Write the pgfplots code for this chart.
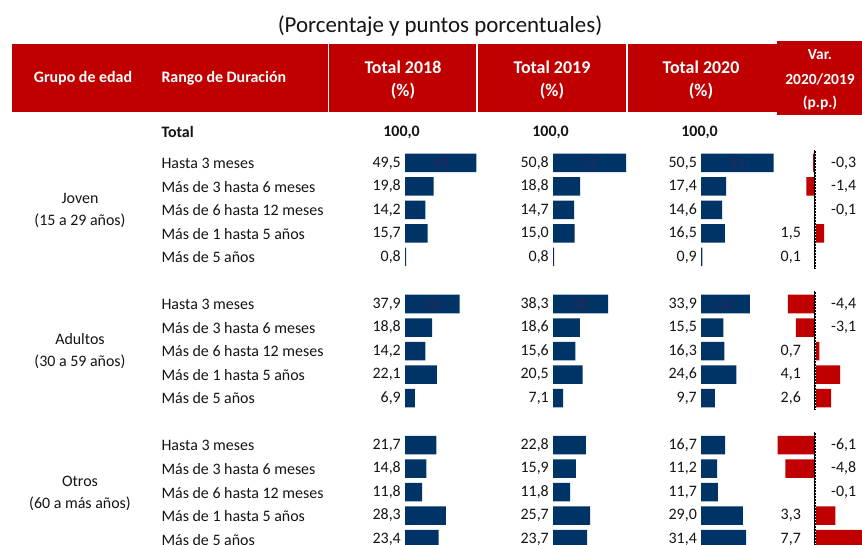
\documentclass[border=0pt]{standalone}
\usepackage{pgfplots}
\pgfplotsset{compat=1.18}
\usepackage{fontspec}
\setmainfont{Carlito}
\definecolor{navy}{RGB}{0,51,102}
\definecolor{hdrred}{RGB}{192,0,0}
\definecolor{inner}{RGB}{40,40,90}
\definecolor{txt}{RGB}{20,20,20}
\newcommand{\fs}[1]{\fontsize{#1}{#1}\selectfont}
\pgfplotsset{
  colax/.style={scale only axis, hide axis, clip=false, height=545bp,
    ymin=-5.936, ymax=17.255, y dir=reverse, anchor=south west},
  barcol/.style={xbar, bar shift=0pt, bar width=18.5bp, fill=navy, draw=none, forget plot},
  redbar/.style={xbar, bar shift=0pt, bar width=18.5bp, fill=hdrred, draw=none, forget plot},
  vlab/.style={draw=none, mark=none, forget plot, point meta=explicit,
    nodes near coords={\pgfmathprintnumber[fixed,fixed zerofill,precision=1,use comma,assume math mode=true]{\pgfplotspointmeta}},
    every node near coord/.append style={font=\fs{16}, text=txt, inner sep=0pt}},
  ilab/.style={draw=none, mark=none, forget plot, point meta=explicit,
    nodes near coords={\pgfmathprintnumber[fixed,precision=0,assume math mode=true]{\pgfplotspointmeta}},
    every node near coord/.append style={font=\fs{16}, text=inner, inner sep=0pt, anchor=center}},
}
\begin{document}
\begin{tikzpicture}[x=1bp,y=1bp]
\clip (0,0) rectangle (862,545);
\path[fill=white] (0,0) rectangle (862,545);
% title
\node[font=\fs{23}, text=txt] at (440,{545-26}) {(Porcentaje y puntos porcentuales)};
% header
\fill[hdrred] (12,{545-112}) rectangle (777,{545-44});
\fill[hdrred] (777,{545-115}) rectangle (862,{545-41});
\draw[white, line width=1.2bp] (477,{545-112}) -- (477,{545-44});
\draw[white, line width=1.2bp] (627,{545-112}) -- (627,{545-44});
\draw[white, line width=1.2bp] (328.5,{545-112}) -- (328.5,{545-44});
\node[font=\fs{16}\bfseries, text=white] at (83,{545-78}) {Grupo de edad};
\node[font=\fs{16}\bfseries, text=white, anchor=west] at (158,{545-78}) {Rango de Duración};
\foreach \cx/\yr in {403/2018, 552/2019, 701/2020}{
  \node[font=\fs{18}\bfseries, text=white] at (\cx,{545-67}) {Total \yr};
  \node[font=\fs{18}\bfseries, text=white] at (\cx,{545-91}) {(\%)};
}
\node[font=\fs{15.5}\bfseries, text=white] at (820,{545-55}) {Var.};
\node[font=\fs{15.5}\bfseries, text=white] at (820,{545-79}) {2020/2019};
\node[font=\fs{15.5}\bfseries, text=white] at (820,{545-103}) {(p.p.)};
% total row
\node[font=\fs{16}\bfseries, text=txt, anchor=west] at (158,{545-132}) {Total};
% group labels
\node[font=\fs{16}, text=txt] at (80,{545-198}) {Joven};
\node[font=\fs{16}, text=txt] at (80,{545-221}) {(15 a 29 años)};
\node[font=\fs{16}, text=txt] at (80,{545-339}) {Adultos};
\node[font=\fs{16}, text=txt] at (80,{545-362}) {(30 a 59 años)};
\node[font=\fs{16}, text=txt] at (80,{545-481}) {Otros};
\node[font=\fs{16}, text=txt] at (80,{545-504}) {(60 a más años)};
% row labels
\foreach \g in {0,6,12}{
  \foreach \r/\lab in {1/Hasta 3 meses, 2/Más de 3 hasta 6 meses, 3/Más de 6 hasta 12 meses, 4/Más de 1 hasta 5 años, 5/Más de 5 años}{
    \node[font=\fs{16}, text=txt, anchor=west] at (158,{545-163-(\r+\g-1)*23.55}) {\lab};
  }
}
% ---------- Total 2018 ----------
\begin{axis}[colax, at={(405bp,0bp)}, width=72bp, xmin=0, xmax=50]
\addplot[barcol] coordinates {(49.5,1) (19.8,2) (14.2,3) (15.7,4) (0.8,5)
  (37.9,7) (18.8,8) (14.2,9) (22.1,10) (6.9,11)
  (21.7,13) (14.8,14) (11.8,15) (28.3,16) (23.4,17)};
\addplot[vlab, every node near coord/.append style={anchor=east, xshift=-4bp}] coordinates {
  (0,1)[49.5] (0,2)[19.8] (0,3)[14.2] (0,4)[15.7] (0,5)[0.8]
  (0,7)[37.9] (0,8)[18.8] (0,9)[14.2] (0,10)[22.1] (0,11)[6.9]
  (0,13)[21.7] (0,14)[14.8] (0,15)[11.8] (0,16)[28.3] (0,17)[23.4]};
\addplot[vlab, every node near coord/.append style={anchor=east, xshift=15bp, font=\fs{16}\bfseries}] coordinates {(0,-0.319)[100]};
\addplot[ilab] coordinates {(24.75,1)[49] (18.95,7)[38]};
\end{axis}
% ---------- Total 2019 ----------
\begin{axis}[colax, at={(553bp,0bp)}, width=72bp, xmin=0, xmax=50]
\addplot[barcol] coordinates {(50.8,1) (18.8,2) (14.7,3) (15.0,4) (0.8,5)
  (38.3,7) (18.6,8) (15.6,9) (20.5,10) (7.1,11)
  (22.8,13) (15.9,14) (11.8,15) (25.7,16) (23.7,17)};
\addplot[vlab, every node near coord/.append style={anchor=east, xshift=-4bp}] coordinates {
  (0,1)[50.8] (0,2)[18.8] (0,3)[14.7] (0,4)[15.0] (0,5)[0.8]
  (0,7)[38.3] (0,8)[18.6] (0,9)[15.6] (0,10)[20.5] (0,11)[7.1]
  (0,13)[22.8] (0,14)[15.9] (0,15)[11.8] (0,16)[25.7] (0,17)[23.7]};
\addplot[vlab, every node near coord/.append style={anchor=east, xshift=16bp, font=\fs{16}\bfseries}] coordinates {(0,-0.319)[100]};
\addplot[ilab] coordinates {(25.4,1)[51] (19.15,7)[38]};
\end{axis}
% ---------- Total 2020 ----------
\begin{axis}[colax, at={(701bp,0bp)}, width=72bp, xmin=0, xmax=50]
\addplot[barcol] coordinates {(50.5,1) (17.4,2) (14.6,3) (16.5,4) (0.9,5)
  (33.9,7) (15.5,8) (16.3,9) (24.6,10) (9.7,11)
  (16.7,13) (11.2,14) (11.7,15) (29.0,16) (31.4,17)};
\addplot[vlab, every node near coord/.append style={anchor=east, xshift=-4bp}] coordinates {
  (0,1)[50.5] (0,2)[17.4] (0,3)[14.6] (0,4)[16.5] (0,5)[0.9]
  (0,7)[33.9] (0,8)[15.5] (0,9)[16.3] (0,10)[24.6] (0,11)[9.7]
  (0,13)[16.7] (0,14)[11.2] (0,15)[11.7] (0,16)[29.0] (0,17)[31.4]};
\addplot[vlab, every node near coord/.append style={anchor=east, xshift=17bp, font=\fs{16}\bfseries}] coordinates {(0,-0.319)[100]};
\addplot[ilab] coordinates {(25.25,1)[51] (16.95,7)[34]};
\end{axis}
% ---------- Var ----------
\begin{axis}[colax, at={(770bp,0bp)}, width=92bp, xmin=-7.317, xmax=7.642]
\addplot[redbar] coordinates {(-0.3,1) (-1.4,2) (-0.1,3) (1.5,4) (0.1,5)
  (-4.4,7) (-3.1,8) (0.7,9) (4.1,10) (2.6,11)
  (-6.1,13) (-4.8,14) (-0.1,15) (3.3,16) (7.7,17)};
\foreach \a/\b in {0.45/5.5, 6.45/11.5, 12.45/17.6}{
  \edef\tmp{\noexpand\addplot[black, line width=2.8bp, forget plot] coordinates {(0,\a) (0,\b)};}\tmp
  \edef\tmp{\noexpand\addplot[white, line width=1bp, dash pattern=on 1bp off 2bp, forget plot] coordinates {(0,\a) (0,\b)};}\tmp
}
\addplot[vlab, every node near coord/.append style={anchor=west, xshift=16bp}] coordinates {
  (0,1)[-0.3] (0,2)[-1.4] (0,3)[-0.1]
  (0,7)[-4.4] (0,8)[-3.1]
  (0,13)[-6.1] (0,14)[-4.8] (0,15)[-0.1]};
\addplot[vlab, every node near coord/.append style={anchor=east, xshift=-14bp}] coordinates {
  (0,4)[1.5] (0,5)[0.1]
  (0,9)[0.7] (0,10)[4.1] (0,11)[2.6]
  (0,16)[3.3] (0,17)[7.7]};
\end{axis}
\end{tikzpicture}
\end{document}
